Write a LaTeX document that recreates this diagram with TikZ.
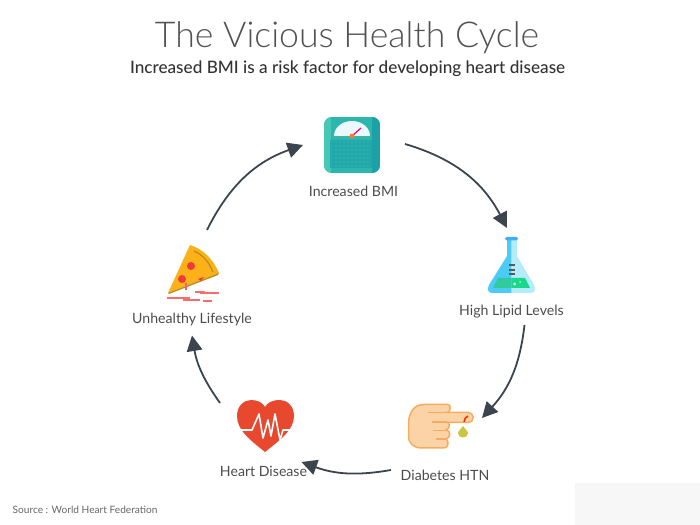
\documentclass[tikz,border=0pt]{standalone}
\usepackage{fontspec}
\setmainfont{Lato}
\newfontfamily\lightfont{Lato Light}
\newfontfamily\mediumfont{Lato Medium}
\usetikzlibrary{calc}
\usetikzlibrary{arrows.meta}
\tikzstyle{iconnode} = [inner sep=0, minimum width=1.6cm/3, minimum height=1.6cm/3]
\tikzstyle{labelnode} = [inner sep=0, text=black!70, font=\fontsize{4.02}{5}\selectfont]
\tikzstyle{cyclearrow} = [draw=arrowgray, line width=.018cm, -{Triangle[length=.155cm, width=.155cm]}]
\definecolor{arrowgray}{HTML}{3C444E}
\definecolor{scalemid}{HTML}{2DB6AE}
\definecolor{scaledark}{HTML}{1DA1A8}
\definecolor{scalelight}{HTML}{45C8B6}
\definecolor{flaskblue}{HTML}{4CCBF7}
\definecolor{flasklight}{HTML}{B5ECFB}
\definecolor{liquidleft}{HTML}{2FCB9E}
\definecolor{liquidright}{HTML}{16D98C}
\definecolor{handfill}{HTML}{FCD3A6}
\definecolor{handline}{HTML}{F6AC5E}
\definecolor{heartred}{HTML}{E8482E}
\definecolor{pizzafill}{HTML}{FBB117}
\definecolor{pizzacrust}{HTML}{B88B22}
\definecolor{pizzared}{HTML}{F0393C}

\begin{document}
\begin{tikzpicture}[x=.01cm, y=-.01cm]
\useasboundingbox (0,0) rectangle (700,525);
\fill[black!3] (575,483) rectangle (700,525);

\node[inner sep=0, text=black!68, font=\lightfont\fontsize{10.13}{12}\selectfont] (title) at (347,38) {The Vicious Health Cycle};
\node[inner sep=0, text=black!80, font=\mediumfont\fontsize{4.88}{6}\selectfont] (subtitle) at (347.5,68.5) {Increased BMI is a risk factor for developing heart disease};

\node[iconnode] (bmi) at (352,145) {};
\node[iconnode] (flask) at (511,265) {};
\node[iconnode] (hand) at (440,427) {};
\node[iconnode] (heart) at (265,426) {};
\node[iconnode] (pizza) at (192,270) {};

\node[labelnode] (bmilabel) at (353.5,191) {Increased BMI};
\node[labelnode] (lipidlabel) at (511.5,312) {High Lipid Levels};
\node[labelnode] (htnlabel) at (445,475) {Diabetes HTN};
\node[labelnode] (heartlabel) at (263.5,471) {Heart Disease};
\node[labelnode] (lifelabel) at (192,319.5) {Unhealthy Lifestyle};
\node[inner sep=0, anchor=west, text=black!60, font=\fontsize{2.88}{4}\selectfont] (source) at (12,509.5) {Source : World Heart Federation};

% cycle
\draw[cyclearrow] ($(bmi)+(53,-1)$) to[bend left=23] ($(flask)+(-4,-37)$);
\draw[cyclearrow] ($(lipidlabel)+(13,13)$) to[bend left=18] ($(hand)+(42,-9)$);
\draw[cyclearrow] ($(htnlabel)+(-54,-5)$) to[bend left=15] ($(heartlabel)+(38,-9)$);
\draw[cyclearrow] ($(heart)+(-45,-23)$) to[bend left=13] ($(lifelabel)+(0,16)$);
\draw[cyclearrow] ($(pizza)+(15,-40)$) to[bend left=22] ($(bmi)+(-49,0)$);

% scale
\begin{scope}
\clip[rounded corners=.08cm] (324,117) rectangle (380,173);
\fill[scalemid] (324,117) rectangle (380,173);
\fill[scaledark] (372,117) rectangle (380,173);
\fill[scalelight] (324,117) rectangle (331,173);
\end{scope}
\fill[black!10!scalelight] (333,138) arc (180:360:19 and 17) -- cycle;
\fill[black!3!cyan!8] (334,136) arc (180:360:18 and 15) -- cycle;
\fill[scaledark!70!scalemid] (330,140) rectangle (372,168);
\foreach \i in {0,...,9}
  \foreach \j in {0,...,6}
    \fill[scalemid] ($(332,142)+(4*\i,4*\j)$) circle (1);
\draw[magenta!80!red, line width=.012cm] (352,136) -- (361,128);
\fill[orange!70!red!80] (352,136) circle (2.5);

% flask
\fill[flaskblue] (507,240) -- (511.5,240) -- (511.5,293) -- (492,293) .. controls (488,293) and (487,289) .. (489,285) -- (507,256) -- cycle;
\fill[flasklight] (511.5,240) -- (517,240) -- (517,256) -- (534,285) .. controls (536,289) and (535,293) .. (531,293) -- (511.5,293) -- cycle;
\fill[flaskblue!85!blue, rounded corners=.015cm] (505,237) rectangle (518,240.5);
\fill[liquidleft] (498,278) -- (511.5,278) -- (511.5,288) -- (493,288) -- cycle;
\fill[liquidright] (511.5,278) -- (525,278) -- (530,288) -- (511.5,288) -- cycle;
\fill[white] (514.5,284) circle (1.5);
\fill[white!70!green] (520,282) circle (1);
\foreach \y in {265,270,274}
  \draw[black!65, line width=.012cm] (509,\y) -- (515,\y);

% hand
\draw[handline, fill=handfill, line width=.015cm, rounded corners=.045cm] (430,412.5) rectangle (473,422.5);
\draw[handline, fill=handfill, line width=.015cm] (448,404.5) -- (424,404.5) .. controls (413,404.5) and (408.5,414) .. (408.5,424) -- (408.5,436) .. controls (408.5,444) and (414,448) .. (422,448) -- (444,448) .. controls (449,448) and (449,440) .. (446,439) .. controls (451,438) and (451,430) .. (446,430) .. controls (451,428) and (450,422) .. (446,422) -- (446,412.5) -- (448,412.5) .. controls (451,410) and (451,405) .. (448,404.5) -- cycle;
\fill[handfill] (444,413.5) rectangle (452,421.5);
\draw[handline, line width=.012cm] (428,412.5) -- (446,412.5) (432,422) -- (446,422) (433,430.5) -- (446,430.5) (436,439) -- (446,439);
\draw[red!70!orange, line width=.015cm] (464,422) .. controls (464,419) and (466,417) .. (468,416);
\fill[yellow!75!black!90] (463,426) .. controls (461,429) and (458,431) .. (458,433.5) .. controls (458,436) and (460.5,437.5) .. (463,437.5) .. controls (465.5,437.5) and (468,436) .. (468,433.5) .. controls (468,431) and (465,429) .. (463,426) -- cycle;

% heart
\fill[heartred] (265,452) .. controls (250,440) and (237,430) .. (237,416) .. controls (237,406) and (244,400) .. (251,400) .. controls (258,400) and (263,403) .. (265,407) .. controls (267,403) and (272,400) .. (280,400) .. controls (287,400) and (294,406) .. (294,416) .. controls (294,430) and (280,440) .. (265,452) -- cycle;
\draw[white, line width=.016cm, line join=round] (241,430) -- (252,430) -- (259,414) -- (263,438) -- (268,420) -- (271,436) -- (275,414) -- (280,440) -- (283,430) -- (290,430);

% pizza
\fill[pizzafill] (168,293) -- (190,245) .. controls (203,249) and (213,259) .. (219,273) -- cycle;
\draw[pizzacrust, line width=.012cm] (194,251) .. controls (203,255) and (209,262) .. (213,272);
\fill[pizzacrust] (168,293) -- (219,273) -- (218,275) -- (169,294) -- cycle;
\fill[pizzared] (191,266) circle (4);
\fill[pizzared] (182,279) circle (4);
\fill[pizzared] (198,279) -- (204,277) -- (201,281) -- cycle;
\foreach \a/\b/\y in {167/190/298,183/200/300,200/212/293,205/219/293,203/212/301,195/205/292}
  \draw[red!20!pizzared!70, line width=.018cm] (\a,\y) -- (\b,\y);
\draw[pizzared!80, line width=.016cm] (186,283) -- (186,290);
\end{tikzpicture}
\end{document}
